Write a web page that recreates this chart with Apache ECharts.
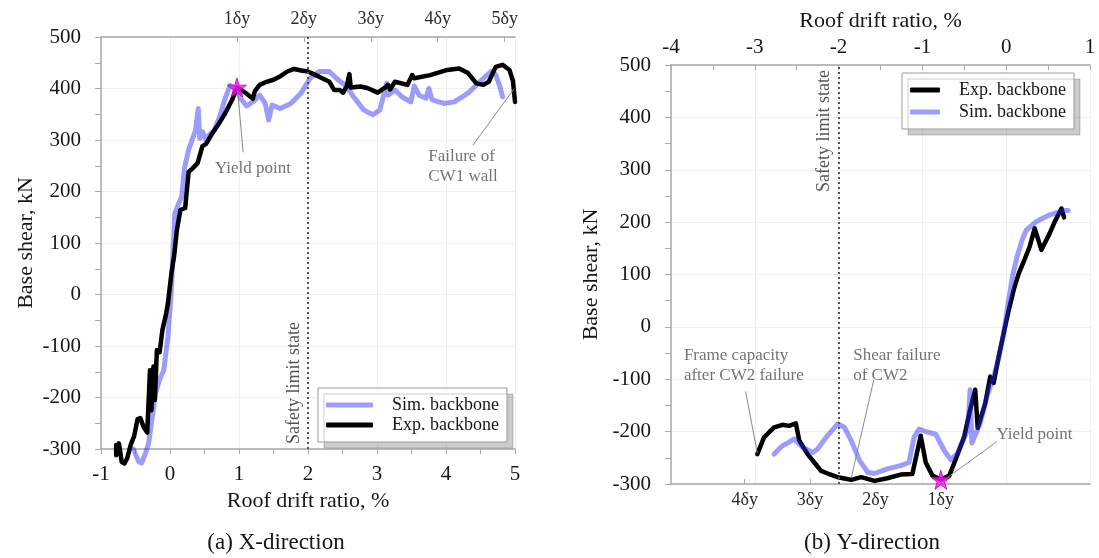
<!DOCTYPE html>
<html>
<head>
<meta charset="utf-8">
<script src="https://cdn.jsdelivr.net/npm/echarts@6/dist/echarts.min.js"></script>
<style>
  html, body { margin: 0; padding: 0; background: #fff; }
  #chart { width: 1099px; height: 558px; }
</style>
</head>
<body>
<div id="chart"></div>
<script>
// ---- (a) X-direction ----
var simX = [[-0.53,-300],[-0.50,-310],[-0.45,-325],[-0.41,-327],[-0.36,-310],[-0.31,-289],[-0.26,-240],[-0.21,-192],[-0.15,-165],[-0.09,-147],[-0.03,-82],[0.02,9],[0.05,100],[0.07,158],[0.12,175],[0.17,190],[0.21,245],[0.27,281],[0.37,319],[0.41,361],[0.43,303],[0.47,316],[0.52,300],[0.57,310],[0.64,319],[0.72,345],[0.79,377],[0.87,406],[0.94,400],[1.04,378],[1.11,366],[1.22,376],[1.30,387],[1.38,371],[1.43,339],[1.48,368],[1.60,361],[1.75,371],[1.90,391],[2.03,420],[2.16,433],[2.31,433],[2.41,420],[2.56,404],[2.66,384],[2.81,358],[2.94,349],[3.04,358],[3.14,410],[3.16,387],[3.26,397],[3.36,384],[3.49,374],[3.54,405],[3.61,387],[3.71,381],[3.75,400],[3.80,378],[3.97,371],[4.12,374],[4.32,391],[4.52,417],[4.65,433],[4.72,427],[4.78,404],[4.82,384]];
var expX = [[-0.78,-292],[-0.78,-312],[-0.74,-289],[-0.70,-325],[-0.66,-328],[-0.62,-318],[-0.57,-292],[-0.52,-275],[-0.47,-242],[-0.43,-240],[-0.38,-258],[-0.33,-268],[-0.31,-270],[-0.29,-147],[-0.27,-225],[-0.24,-140],[-0.22,-205],[-0.19,-108],[-0.15,-112],[-0.11,-69],[-0.06,-40],[-0.03,-17],[0.02,41],[0.06,75],[0.10,125],[0.15,164],[0.22,168],[0.27,238],[0.32,244],[0.40,255],[0.47,288],[0.52,292],[0.60,310],[0.70,330],[0.80,352],[0.90,378],[0.97,402],[1.10,391],[1.20,380],[1.23,395],[1.30,407],[1.40,413],[1.50,417],[1.60,424],[1.70,433],[1.80,438],[1.90,435],[2.00,433],[2.16,423],[2.31,413],[2.38,397],[2.46,397],[2.51,392],[2.56,404],[2.60,428],[2.62,402],[2.76,404],[2.86,401],[3.01,392],[3.11,401],[3.16,407],[3.19,398],[3.26,413],[3.44,407],[3.51,426],[3.54,420],[3.77,426],[4.02,436],[4.19,439],[4.32,430],[4.44,410],[4.54,407],[4.62,413],[4.72,442],[4.82,446],[4.92,436],[4.97,415],[5.0,374]];
var dyTicksX = [0.97, 1.94, 2.91, 3.88, 4.85];
var dyLabelsX = ['1δy', '2δy', '3δy', '4δy', '5δy'];
var yieldX = [0.97, 402];
var safetyX = 2;

// ---- (b) Y-direction ----
var expY = [[-2.97,-243],[-2.89,-211],[-2.77,-192],[-2.67,-187],[-2.59,-189],[-2.51,-184],[-2.47,-217],[-2.37,-243],[-2.29,-259],[-2.21,-275],[-2.13,-280],[-2.01,-287],[-1.85,-292],[-1.73,-287],[-1.57,-294],[-1.42,-289],[-1.26,-282],[-1.12,-281],[-1.02,-208],[-0.96,-259],[-0.88,-284],[-0.78,-292],[-0.68,-284],[-0.62,-260],[-0.50,-209],[-0.43,-158],[-0.37,-120],[-0.34,-193],[-0.25,-146],[-0.19,-95],[-0.15,-107],[-0.09,-57],[-0.03,-12],[0.03,32],[0.09,71],[0.15,102],[0.21,125],[0.28,153],[0.34,188],[0.42,147],[0.52,179],[0.58,201],[0.66,226],[0.69,209]];
var simY = [[-2.77,-243],[-2.73,-236],[-2.67,-227],[-2.59,-220],[-2.53,-214],[-2.43,-230],[-2.31,-240],[-2.25,-233],[-2.15,-211],[-2.01,-185],[-1.93,-192],[-1.85,-217],[-1.75,-255],[-1.65,-278],[-1.57,-280],[-1.42,-271],[-1.26,-265],[-1.16,-259],[-1.10,-211],[-1.04,-195],[-0.94,-201],[-0.84,-205],[-0.74,-236],[-0.66,-254],[-0.58,-241],[-0.46,-197],[-0.43,-120],[-0.41,-222],[-0.31,-184],[-0.23,-133],[-0.15,-95],[-0.09,-60],[-0.03,-12],[0.03,52],[0.08,100],[0.13,134],[0.19,166],[0.24,185],[0.36,201],[0.52,214],[0.68,222],[0.74,222]];
var dyTicksY = [-0.78, -1.56, -2.34, -3.12];
var dyLabelsY = ['1δy', '2δy', '3δy', '4δy'];
var yieldY = [-0.78, -292];
var safetyY = -2;

var yRange = [-300, 500];

// annotations: text anchor, leader line from -> to
var notesX = [
  { text: 'Yield point', at: [1.21, 243], align: 'center', line: [[0.98, 396], [1.06, 276]] },
  { text: 'Failure of\nCW1 wall', at: [3.75, 248], align: 'left', line: [[4.39, 290], [4.99, 400]] }
];
var notesY = [
  { text: 'Frame capacity\nafter CW2 failure', at: [-3.84, -75], align: 'left', line: [[-3.11, -123], [-2.97, -241]] },
  { text: 'Shear failure\nof CW2', at: [-1.82, -75], align: 'left', line: [[-1.58, -101], [-1.85, -289]] },
  { text: 'Yield point', at: [-0.11, -206], align: 'left', line: [[-0.11, -219], [-0.74, -292]] }
];

var FONT = '"Liberation Serif", "Times New Roman", serif';
var AXIS_GRAY = '#a8a8a8';
var TXT = '#161616';
var SIM_COLOR = 'rgba(40,40,255,0.46)';
var STAR = 'path://M50,0 L61.2,34.5 L97.6,34.5 L68.2,55.9 L79.4,90.5 L50,69.1 L20.6,90.5 L31.8,55.9 L2.4,34.5 L38.8,34.5 Z';

function findLabel(ticks, labels, v) {
  for (var i = 0; i < ticks.length; i++) {
    if (Math.abs(ticks[i] - v) < 1e-6) return labels[i];
  }
  return '';
}

function mainX(grid, pos, min, max, name, nameGap, labelMargin, tickInside) {
  return {
    type: 'value', gridIndex: grid, position: pos, min: min, max: max, interval: 1,
    axisLine: { onZero: false, lineStyle: { color: AXIS_GRAY, width: 1.5 } },
    axisTick: { show: true, inside: tickInside, length: 5, lineStyle: { color: AXIS_GRAY } },
    minorTick: { show: true, splitNumber: 2, length: 5, lineStyle: { color: AXIS_GRAY } },
    axisLabel: { fontSize: 21, fontFamily: FONT, color: TXT, margin: labelMargin },
    splitLine: { show: true, lineStyle: { color: '#efefef' } },
    name: name, nameLocation: 'middle', nameGap: nameGap,
    nameTextStyle: { fontSize: 22, fontFamily: FONT, color: TXT }
  };
}

function dyAxis(grid, pos, min, max, ticks, labels, margin) {
  return {
    type: 'value', gridIndex: grid, position: pos, min: min, max: max,
    axisLine: { onZero: false, lineStyle: { color: AXIS_GRAY, width: 1.5 } },
    axisTick: { show: true, inside: true, length: 5, customValues: ticks, lineStyle: { color: AXIS_GRAY } },
    axisLabel: {
      customValues: ticks, fontSize: 18, fontFamily: FONT, color: '#2a2a2a', margin: margin,
      formatter: function (v) { return findLabel(ticks, labels, v); }
    },
    splitLine: { show: false }
  };
}

function mainY(grid, nameGap) {
  return {
    type: 'value', gridIndex: grid, min: yRange[0], max: yRange[1], interval: 100,
    axisLine: { show: true, onZero: false, lineStyle: { color: AXIS_GRAY, width: 1.5 } },
    axisTick: { show: true, length: 6, lineStyle: { color: AXIS_GRAY } },
    minorTick: { show: true, splitNumber: 2, length: 6, lineStyle: { color: AXIS_GRAY } },
    axisLabel: { fontSize: 21, fontFamily: FONT, color: TXT, margin: 20 },
    splitLine: { show: true, lineStyle: { color: '#efefef' } },
    name: 'Base shear, kN', nameLocation: 'middle', nameRotate: 90, nameGap: nameGap,
    nameTextStyle: { fontSize: 22, fontFamily: FONT, color: TXT }
  };
}

function curve(name, data, xi, yi, color, width, z) {
  return {
    name: name, type: 'line', xAxisIndex: xi, yAxisIndex: yi, data: data,
    showSymbol: false, symbol: 'none', silent: true, clip: false, z: z,
    lineStyle: { color: color, width: width, cap: 'round', join: 'round' },
    itemStyle: { color: color }
  };
}

function safetyLine(series, x, pos) {
  series.markLine = {
    silent: true, symbol: ['none', 'none'],
    lineStyle: { type: [2, 3], color: '#555', width: 2 },
    label: {
      show: true, position: pos, formatter: 'Safety limit state', distance: 5,
      fontSize: 18, fontFamily: FONT, color: '#555'
    },
    data: [[{ coord: [x, yRange[0]] }, { coord: [x, yRange[1]] }]]
  };
  return series;
}

function noteSeries(notes, xi, yi) {
  var out = [];
  notes.forEach(function (n) {
    out.push({
      type: 'line', xAxisIndex: xi, yAxisIndex: yi, data: n.line, silent: true,
      showSymbol: false, symbol: 'none', clip: false, z: 4,
      lineStyle: { color: '#8a8a8a', width: 1 }
    });
    out.push({
      type: 'scatter', xAxisIndex: xi, yAxisIndex: yi, data: [n.at], silent: true,
      symbolSize: 1, itemStyle: { color: 'rgba(0,0,0,0)' }, z: 6,
      label: {
        show: true, position: [0, 0], formatter: n.text, align: n.align, verticalAlign: 'middle',
        fontSize: 17, lineHeight: 20, fontFamily: FONT, color: '#505050'
      }
    });
  });
  return out;
}

function starSeries(pt, xi, yi) {
  return {
    type: 'scatter', xAxisIndex: xi, yAxisIndex: yi, data: [pt], silent: true,
    symbol: STAR, symbolSize: 19, clip: false, z: 10,
    itemStyle: { color: '#ff10ff', borderColor: '#b000b0', borderWidth: 1 }
  };
}

function legendBox(names, left, top, iconW, gap) {
  return {
    data: names, orient: 'vertical', left: left, top: top,
    icon: 'roundRect', itemWidth: iconW, itemHeight: 5, itemGap: gap,
    padding: [7, 8, 7, 8],
    backgroundColor: '#fff', borderColor: '#9a9a9a', borderWidth: 1,
    shadowColor: 'rgba(0,0,0,0.2)', shadowOffsetX: 6, shadowOffsetY: 6, shadowBlur: 0,
    textStyle: { fontSize: 18, lineHeight: 20, fontFamily: FONT, color: TXT, padding: [0, 0, 0, 14] },
    selectedMode: false
  };
}

var chart = echarts.init(document.getElementById('chart'), null, { renderer: 'canvas' });

var series = [];
series.push(curve('Sim. backbone', simX, 0, 0, SIM_COLOR, 5, 2));
series.push(safetyLine(curve('Exp. backbone', expX, 0, 0, '#000', 4.5, 3), safetyX, 'insideStartTop'));
series.push(safetyLine(curve('Exp. backbone', expY, 2, 1, '#000', 4.5, 2), safetyY, 'insideEndTop'));
series.push(curve('Sim. backbone', simY, 2, 1, SIM_COLOR, 5, 3));
series = series.concat(noteSeries(notesX, 0, 0), noteSeries(notesY, 2, 1));
series.push(starSeries(yieldX, 0, 0));
series.push(starSeries(yieldY, 2, 1));

var option = {
  backgroundColor: '#fff',
  animation: false,
  grid: [
    { left: 101, top: 37, width: 414, height: 412 },
    { left: 671, top: 65, width: 419, height: 419 }
  ],
  xAxis: [
    mainX(0, 'bottom', -1, 5, 'Roof drift ratio, %', 40, 15, false),
    dyAxis(0, 'top', -1, 5, dyTicksX, dyLabelsX, 9),
    mainX(1, 'top', -4, 1, 'Roof drift ratio, %', 33, 7, true),
    dyAxis(1, 'bottom', -4, 1, dyTicksY, dyLabelsY, 7)
  ],
  yAxis: [mainY(0, 64), mainY(1, 69)],
  legend: [
    legendBox(['Sim. backbone', 'Exp. backbone'], 318, 388, 47, 0),
    legendBox(['Exp. backbone', 'Sim. backbone'], 902, 73, 30, 2)
  ],
  graphic: [
    { type: 'text', x: 276, y: 543, style: { text: '(a) X-direction', align: 'center', verticalAlign: 'middle', fontSize: 23, fontFamily: FONT, fill: TXT } },
    { type: 'text', x: 872, y: 543, style: { text: '(b) Y-direction', align: 'center', verticalAlign: 'middle', fontSize: 23, fontFamily: FONT, fill: TXT } }
  ],
  series: series
};

chart.setOption(option);
</script>
</body>
</html>
